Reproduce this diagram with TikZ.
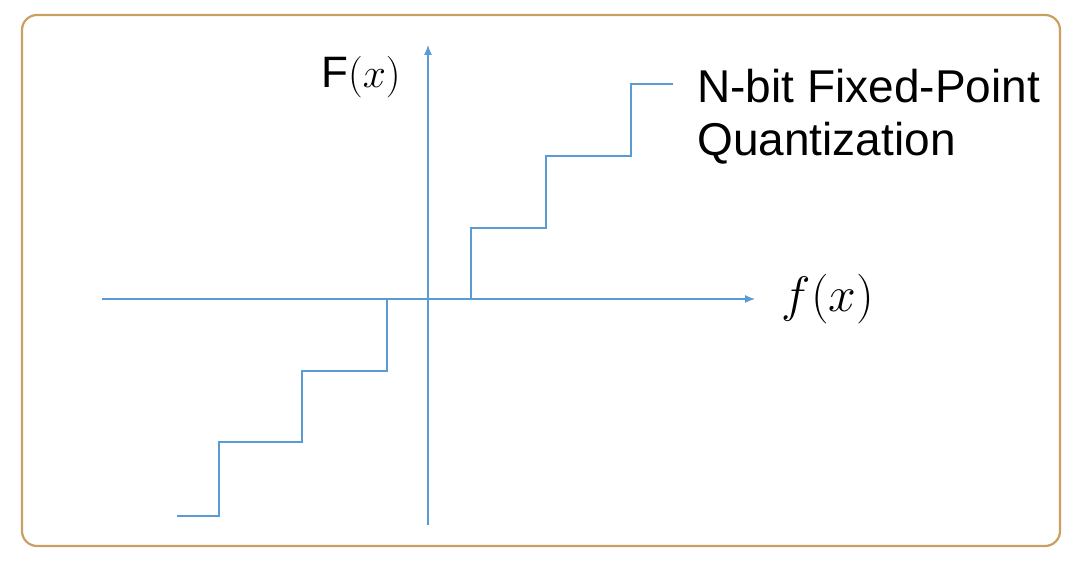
\documentclass[tikz,border=0pt]{standalone}
\usepackage{fontspec}
\setmainfont{Liberation Sans}
\usetikzlibrary{arrows.meta, positioning}
\definecolor{qzframe}{HTML}{C9A062}
\definecolor{qzblue}{HTML}{5B9BD5}

\begin{document}
\begin{tikzpicture}[
    x=0.5pt, y=-0.5pt,
    axis/.style={-{Latex[length=5pt, width=4pt]}, line width=0.6pt, color=qzblue},
    stair/.style={line width=1.1pt, color=qzblue},
    lbl/.style={font=\fontsize{22}{26}\selectfont, inner sep=0pt}
]
\useasboundingbox (0,0) rectangle (1080,566);

% Frame
\draw[qzframe, line width=1.1pt, rounded corners=7.5pt] (22,15) rectangle (1060,546);

% Axes
\coordinate (xstart) at (102,299);
\coordinate (xend) at (755,299);
\coordinate (ystart) at (428,525);
\coordinate (yend) at (428,45);
\draw[axis] (xstart) -- (xend);
\draw[axis] (ystart) -- (yend);

% Quantization steps
\draw[stair] (177,516) -- (219,516) -- (219,442) -- (302,442) -- (302,371)
    -- (387,371) -- (387,299) -- (471,299) -- (471,228) -- (546,228)
    -- (546,156) -- (631,156) -- (631,84) -- (673,84);

% Labels
\node[lbl] (Flabel) at (361,77) {F$(x)$};
\node[lbl, font=\fontsize{25}{30}\selectfont] (flabel) at (828,299) {$f(x)$};
\node[font=\fontsize{23}{26.5}\selectfont, align=left, anchor=west, inner sep=0pt] (title) at (697,117) {N-bit Fixed-Point\\Quantization};

\end{tikzpicture}
\end{document}
